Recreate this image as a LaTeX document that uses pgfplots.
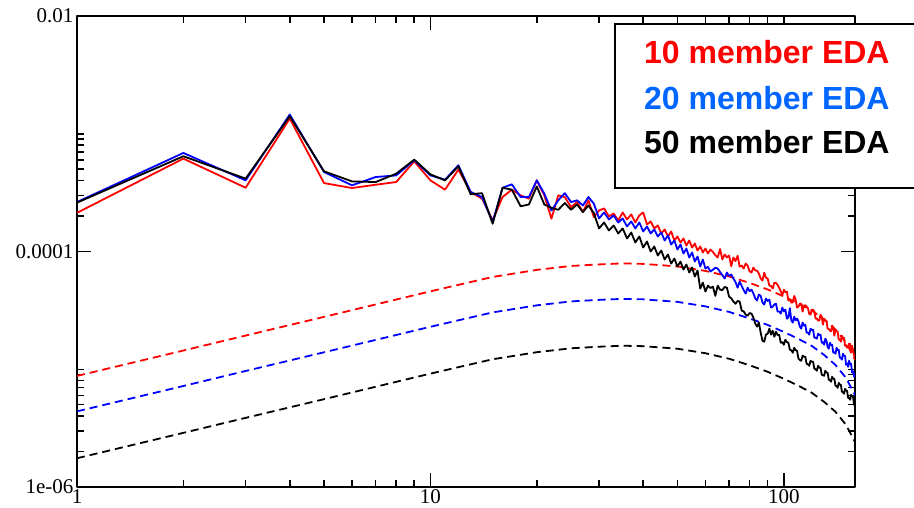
\documentclass[border=0pt]{standalone}
\usepackage{fontspec}
\setmainfont{Liberation Serif}
\newfontfamily\legfont{Liberation Sans}
\usepackage{pgfplots}
\usepackage{pgfplotstable}
\pgfplotsset{compat=1.18}
\definecolor{legblue}{RGB}{0,102,255}

\pgfplotstableread{
n red blue black
1 2.13e-4 2.63e-4 2.60e-4
2 6.15e-4 6.87e-4 6.44e-4
3 3.48e-4 4.02e-4 4.16e-4
4 1.346e-3 1.456e-3 1.41e-3
5 3.81e-4 4.73e-4 4.80e-4
6 3.46e-4 3.65e-4 3.94e-4
7 3.69e-4 4.29e-4 3.89e-4
8 3.89e-4 4.43e-4 4.58e-4
9 5.83e-4 5.95e-4 6.03e-4
10 4.02e-4 4.43e-4 4.52e-4
11 3.35e-4 4.07e-4 4.02e-4
12 4.96e-4 5.40e-4 5.29e-4
13 3.20e-4 3.20e-4 3.06e-4
14 2.81e-4 2.90e-4 3.13e-4
15 1.84e-4 1.78e-4 1.72e-4
16 2.90e-4 3.48e-4 3.48e-4
17 3.35e-4 3.72e-4 3.35e-4
18 3.00e-4 2.90e-4 2.42e-4
19 2.81e-4 2.90e-4 2.51e-4
20 4.02e-4 4.02e-4 3.57e-4
21 3.00e-4 3.10e-4 2.51e-4
22 1.90e-4 2.23e-4 2.35e-4
23 3.00e-4 2.72e-4 2.26e-4
24 2.90e-4 3.13e-4 2.58e-4
25 2.38e-4 2.63e-4 2.26e-4
26 2.63e-4 2.72e-4 2.51e-4
27 2.16e-4 2.46e-4 2.16e-4
28 2.72e-4 2.90e-4 2.46e-4
29 1.96e-4 2.55e-4 2.12e-4
30 2.233e-4 1.909e-4 1.570e-4
31 2.323e-4 2.147e-4 1.765e-4
32 1.985e-4 1.872e-4 1.509e-4
33 2.105e-4 2.025e-4 1.665e-4
34 1.836e-4 1.765e-4 1.423e-4
35 2.147e-4 1.909e-4 1.570e-4
36 1.872e-4 1.632e-4 1.290e-4
37 2.065e-4 1.800e-4 1.451e-4
38 1.765e-4 1.570e-4 1.192e-4
39 2.025e-4 1.765e-4 1.342e-4
40 2.147e-4 1.480e-4 1.081e-4
41 1.698e-4 1.632e-4 1.216e-4
42 1.800e-4 1.423e-4 1.000e-4
43 1.570e-4 1.539e-4 1.102e-4
44 1.665e-4 1.342e-4 9.25e-5
45 1.423e-4 1.451e-4 1.020e-4
46 1.539e-4 1.240e-4 8.55e-5
47 1.342e-4 1.368e-4 9.43e-5
48 1.480e-4 1.147e-4 7.90e-5
49 1.240e-4 1.240e-4 8.72e-5
50 1.342e-4 1.040e-4 7.45e-5
51 1.192e-4 1.147e-4 8.22e-5
52 1.290e-4 9.62e-5 7.02e-5
53 1.124e-4 1.060e-4 7.75e-5
54 1.240e-4 8.89e-5 6.63e-5
55 1.081e-4 9.81e-5 7.31e-5
56 1.169e-4 8.22e-5 6.13e-5
57 1.020e-4 9.07e-5 6.89e-5
58 1.102e-4 7.45e-5 4.84e-5
59 9.81e-5 8.55e-5 5.44e-5
60 1.060e-4 7.16e-5 4.57e-5
61 9.62e-5 7.4e-5 5.13e-5
62 1.040e-4 6.76e-5 4.9e-5
63 9.9e-5 7.0e-5 5.03e-5
64 9.3e-5 7.3e-5 4.2e-5
65 8.89e-5 7.16e-5 5.13e-5
66 1.05e-4 6.7e-5 4.74e-5
67 8.55e-5 6.3e-5 4.7e-5
68 9.43e-5 5.89e-5 5.0e-5
69 8.9e-5 6.63e-5 4.93e-5
70 9.25e-5 6.2e-5 4.14e-5
71 7.5e-5 6.37e-5 4.0e-5
72 8.89e-5 5.9e-5 3.76e-5
73 8.3e-5 5.5e-5 3.6e-5
74 9.2e-5 4.93e-5 3.8e-5
75 7.45e-5 5.55e-5 3.76e-5
76 7.6e-5 5.1e-5 3.147e-5
77 7.16e-5 4.7e-5 3.1e-5
78 7.90e-5 4.39e-5 2.910e-5
79 7.6e-5 4.93e-5 2.85e-5
80 6.8e-5 4.6e-5 3.0e-5
81 6.63e-5 4.74e-5 2.967e-5
82 7.31e-5 4.4e-5 2.75e-5
83 6.9e-5 4.0e-5 2.45e-5
84 6.89e-5 3.83e-5 2.300e-5
85 6.5e-5 4.31e-5 2.488e-5
86 5.9e-5 4.2e-5 2.045e-5
87 5.66e-5 3.7e-5 1.748e-5
88 6.6e-5 3.54e-5 1.714e-5
89 6.0e-5 3.98e-5 1.967e-5
90 5.89e-5 3.8e-5 2.006e-5
91 5.13e-5 3.91e-5 2.212e-5
92 5.1e-5 3.34e-5 1.967e-5
93 4.84e-5 3.4e-5 2.127e-5
94 5.44e-5 3.55e-5 1.891e-5
95 5.4e-5 3.61e-5 2.086e-5
96 5.23e-5 3.086e-5 1.95e-5
97 4.9e-5 3.1e-5 1.967e-5
98 4.6e-5 2.967e-5 1.681e-5
99 4.23e-5 3.34e-5 1.7e-5
100 4.74e-5 3.1e-5 1.616e-5
101 4.5e-5 3.21e-5 1.783e-5
102 4.57e-5 2.690e-5 1.7e-5
103 3.83e-5 2.75e-5 1.681e-5
104 3.9e-5 3.3e-5 1.465e-5
105 3.68e-5 2.6e-5 1.45e-5
106 3.7e-5 2.488e-5 1.382e-5
107 4.2e-5 2.798e-5 1.524e-5
108 3.91e-5 2.6e-5 1.45e-5
109 3.34e-5 2.690e-5 1.437e-5
110 3.4e-5 2.55e-5 1.229e-5
111 3.6e-5 2.3e-5 1.2e-5
112 3.61e-5 2.212e-5 1.181e-5
113 3.086e-5 2.488e-5 1.303e-5
114 3.47e-5 2.35e-5 1.28e-5
115 3.5e-5 2.392e-5 1.278e-5
116 3.41e-5 2.045e-5 1.114e-5
117 3.3e-5 2.05e-5 1.1e-5
118 2.95e-5 1.967e-5 1.071e-5
119 2.910e-5 2.212e-5 1.181e-5
120 3.21e-5 2.15e-5 1.16e-5
121 3.2e-5 2.169e-5 1.158e-5
122 3.086e-5 1.854e-5 1.010e-5
123 2.690e-5 1.85e-5 1.0e-5
124 2.7e-5 1.818e-5 9.71e-6
125 2.587e-5 2.006e-5 1.071e-5
126 2.6e-5 1.95e-5 1.03e-5
127 2.9e-5 1.967e-5 1.030e-5
128 2.798e-5 1.681e-5 8.98e-6
129 2.392e-5 1.7e-5 8.9e-6
130 2.690e-5 1.616e-5 8.80e-6
131 2.6e-5 1.818e-5 9.71e-6
132 2.587e-5 1.75e-5 9.4e-6
133 2.212e-5 1.55e-5 9.34e-6
134 2.2e-5 1.494e-5 8.14e-6
135 2.127e-5 1.681e-5 8.1e-6
136 2.1e-5 1.6e-5 7.83e-6
137 2.35e-5 1.616e-5 8.63e-6
138 2.255e-5 1.382e-5 8.3e-6
139 1.929e-5 1.4e-5 8.30e-6
140 2.169e-5 1.355e-5 7.24e-6
141 2.1e-5 1.524e-5 7.2e-6
142 2.086e-5 1.45e-5 6.96e-6
143 1.783e-5 1.465e-5 7.67e-6
144 1.8e-5 1.253e-5 7.4e-6
145 1.714e-5 1.25e-5 7.38e-6
146 1.929e-5 1.205e-5 6.43e-6
147 1.85e-5 1.355e-5 6.4e-6
148 1.854e-5 1.3e-5 6.19e-6
149 1.585e-5 1.303e-5 6.82e-6
150 1.6e-5 1.092e-5 6.6e-6
151 1.524e-5 1.12e-5 6.56e-6
152 1.55e-5 1.050e-5 5.72e-6
153 1.65e-5 1.181e-5 5.7e-6
154 1.648e-5 1.1e-5 5.50e-6
155 1.382e-5 1.114e-5 6.07e-6
156 1.585e-5 9.34e-6 5.9e-6
157 1.45e-5 9.6e-6 5.83e-6
158 1.3e-5 8.63e-6 4.98e-6
159 1.329e-5 9.34e-6 5.50e-6
}\solid

\pgfplotstableread{
n red blue black
1 8.78e-6 4.39e-6 1.755e-6
2 1.442e-5 7.21e-6 2.884e-6
3 1.933e-5 9.67e-6 3.866e-6
5 2.785e-5 1.393e-5 5.57e-6
7 3.55e-5 1.775e-5 7.10e-6
10 4.59e-5 2.295e-5 9.18e-6
15 6.08e-5 3.04e-5 1.216e-5
20 6.98e-5 3.49e-5 1.396e-5
25 7.54e-5 3.77e-5 1.507e-5
30 7.77e-5 3.885e-5 1.554e-5
35 7.93e-5 3.96e-5 1.585e-5
40 7.85e-5 3.925e-5 1.570e-5
50 7.47e-5 3.735e-5 1.494e-5
60 6.84e-5 3.42e-5 1.368e-5
70 6.14e-5 3.07e-5 1.228e-5
80 5.41e-5 2.70e-5 1.081e-5
90 4.76e-5 2.38e-5 9.52e-6
100 4.15e-5 2.075e-5 8.30e-6
110 3.62e-5 1.81e-5 7.24e-6
120 3.155e-5 1.578e-5 6.31e-6
130 2.645e-5 1.323e-5 5.29e-6
140 2.175e-5 1.088e-5 4.35e-6
150 1.685e-5 8.43e-6 3.37e-6
159 1.205e-5 6.03e-6 2.41e-6
}\dashed

\begin{document}
\begin{tikzpicture}
\path[use as bounding box] (0pt,0pt) rectangle (914pt,508pt);
\begin{axis}[
  at={(77pt,21pt)}, anchor=south west,
  width=778pt, height=471pt, scale only axis,
  xmode=log, ymode=log,
  xmin=1, xmax=159, ymin=1e-6, ymax=1e-2,
  xtick={1,10,100}, xticklabels={1,10,100},
  minor xtick={2,3,4,5,6,7,8,9,20,30,40,50,60,70,80,90},
  ytick={1e-6,1e-4,1e-2}, yticklabels={1e-06,0.0001,0.01},
  minor ytick={2e-6,3e-6,4e-6,5e-6,6e-6,7e-6,8e-6,9e-6,1e-5,2e-4,3e-4,4e-4,5e-4,6e-4,7e-4,8e-4,9e-4,1e-3},
  major tick length=14pt, minor tick length=7.5pt,
  every tick/.style={line width=1.5pt, black},
  axis line style={line width=2pt},
  tick label style={font=\fontsize{21}{23}\selectfont},
  xticklabel style={inner sep=2.5pt},
  line join=round,
]
\addplot[red, line width=1.8pt, dash pattern=on 8pt off 5pt] table[x=n, y=red] {\dashed};
\addplot[blue, line width=1.8pt, dash pattern=on 8pt off 5pt] table[x=n, y=blue] {\dashed};
\addplot[black, line width=1.8pt, dash pattern=on 8pt off 5pt] table[x=n, y=black] {\dashed};
\addplot[red, line width=1.8pt] table[x=n, y=red] {\solid};
\addplot[blue, line width=1.8pt] table[x=n, y=blue] {\solid};
\addplot[black, line width=1.8pt] table[x=n, y=black] {\solid};
\end{axis}
\draw[line width=2pt, fill=white] (615pt,320pt) rectangle (922pt,484pt);
\node[anchor=base west, inner sep=0pt, text=red, font=\legfont\bfseries\fontsize{32}{36}\selectfont] at (644pt,444.7pt) {10 member EDA};
\node[anchor=base west, inner sep=0pt, text=legblue, font=\legfont\bfseries\fontsize{32}{36}\selectfont] at (644pt,398.7pt) {20 member EDA};
\node[anchor=base west, inner sep=0pt, text=black, font=\legfont\bfseries\fontsize{32}{36}\selectfont] at (644pt,354pt) {50 member EDA};
\end{tikzpicture}
\end{document}
